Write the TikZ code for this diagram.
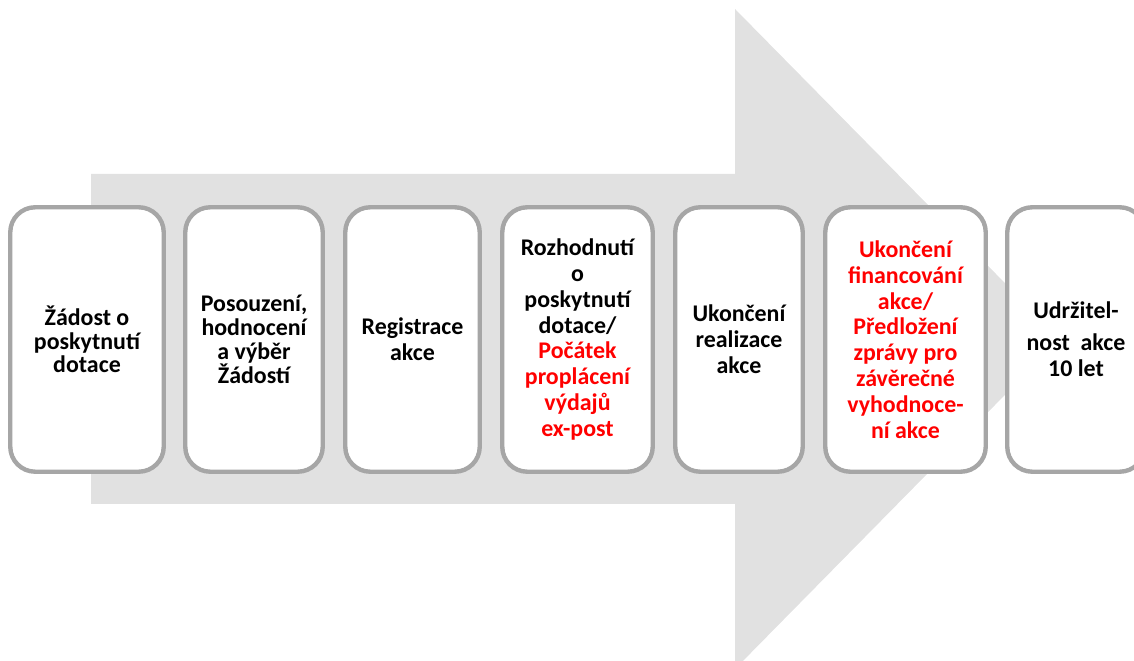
\documentclass[tikz,border=0pt]{standalone}
\usepackage{fontspec}
\setmainfont{Carlito}
\definecolor{arrowgray}{RGB}{225,225,225}
\definecolor{boxgray}{RGB}{166,166,166}
\newcommand{\redline}[1]{\textcolor{red}{#1}}
\begin{document}
\begin{tikzpicture}[x=0.02cm,y=-0.02cm,
  stepbox/.style={draw=boxgray,line width=2.5pt,fill=white,rounded corners=0.5cm,
    minimum height=5.29cm,inner sep=0pt,align=center,
    font=\bfseries\fontsize{13.6}{14.7}\selectfont}]
\clip (0,0) rectangle (1134,661);
% big arrow behind the steps
\fill[arrowgray] (91,174) -- (735,174) -- (735,9) -- (1060,339) -- (735,669) -- (735,504) -- (91,504) -- cycle;
% steps
\node[stepbox,minimum width=3.07cm,font=\bfseries\fontsize{13.6}{13.4}\selectfont] (zadost) at (87,339.5) {Žádost o\\poskytnutí\\dotace};
\node[stepbox,minimum width=2.75cm,font=\bfseries\fontsize{13.6}{13.7}\selectfont] (posouzeni) at (254,339.5) {Posouzení,\\hodnocení\\a výběr\\Žádostí};
\node[stepbox,minimum width=2.69cm] (registrace) at (412.5,339.5) {Registrace\\akce};
\node[stepbox,minimum width=3.01cm] (rozhodnuti) at (577.5,339.5) {Rozhodnutí\\o\\poskytnutí\\dotace/\\\redline{Počátek}\\\redline{proplácení}\\\redline{výdajů}\\\redline{ex-post}};
\node[stepbox,minimum width=2.55cm] (realizace) at (739,339.5) {Ukončení\\realizace\\akce};
\node[stepbox,minimum width=3.21cm,text=red] (financovani) at (905.5,339.5) {Ukončení\\financování\\akce/\\Předložení\\zprávy pro\\závěrečné\\vyhodnoce-\\ní akce};
\node[stepbox,minimum width=2.75cm] (udrzitelnost) at (1076,339.5) {Udržitel-\\[3.5pt]nost~ akce\\10 let};
\end{tikzpicture}
\end{document}
